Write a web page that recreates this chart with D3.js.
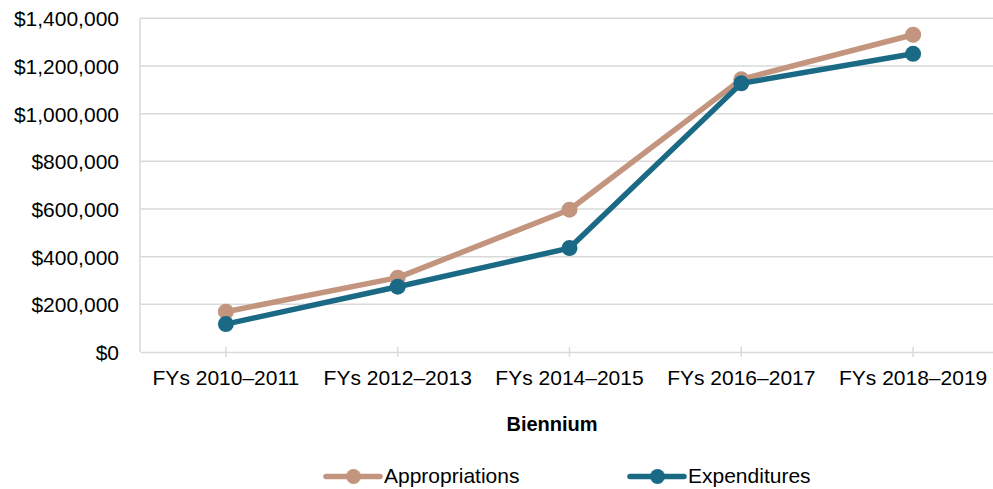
<!DOCTYPE html>
<html>
<head>
<meta charset="utf-8">
<script src="https://cdn.jsdelivr.net/npm/d3@7"></script>
<style>
  body { margin: 0; background: #fff; }
  svg { display: block; font-family: "Liberation Sans", Arial, sans-serif; }
</style>
</head>
<body>
<div id="chart"></div>
<script>
// Biennium categories and series (dollars)
const categories = ['FYs 2010–2011', 'FYs 2012–2013', 'FYs 2014–2015', 'FYs 2016–2017', 'FYs 2018–2019']
const appropriations = [169000, 312000, 597000, 1144000, 1331000]
const expenditures = [117000, 274000, 436000, 1127000, 1251000]
const yTicks = [0, 200000, 400000, 600000, 800000, 1000000, 1200000, 1400000]

const series = [
  { name: 'Appropriations', values: appropriations, color: '#C3957E' },
  { name: 'Expenditures', values: expenditures, color: '#1B6A85' }
]

const W = 993, H = 489
const plotL = 140, plotR = 999, plotT = 18.3, plotB = 352

const svg = d3.select('#chart').append('svg')
  .attr('width', W).attr('height', H)

const x = d3.scaleBand().domain(categories).range([plotL, plotR])
const y = d3.scaleLinear().domain([0, 1400000]).range([plotB, plotT])
const fmt = v => '$' + d3.format(',')(v)

// gridlines
svg.append('g').selectAll('line')
  .data(yTicks.filter(d => d > 0))
  .join('line')
  .attr('x1', plotL).attr('x2', plotR)
  .attr('y1', d => y(d)).attr('y2', d => y(d))
  .attr('stroke', '#d9d9d9').attr('stroke-width', 1.5)

// left axis line
svg.append('line')
  .attr('x1', plotL).attr('x2', plotL).attr('y1', plotT).attr('y2', plotB)
  .attr('stroke', '#d9d9d9').attr('stroke-width', 1.5)

// y axis
const yAxis = svg.append('g')
  .attr('transform', `translate(${plotL - 21},0)`)
  .call(d3.axisLeft(y).tickValues(yTicks).tickFormat(fmt).tickSize(0).tickPadding(0))
yAxis.select('.domain').remove()
yAxis.selectAll('text')
  .style('font-size', '21px').attr('fill', '#000')
  .attr('dy', '0.35em')

// x axis
const xAxis = svg.append('g')
  .attr('transform', `translate(0,${plotB})`)
  .call(d3.axisBottom(x).tickSizeInner(5).tickSizeOuter(0).tickPadding(13))
xAxis.select('.domain').attr('stroke', '#d9d9d9').attr('stroke-width', 1.5)
xAxis.selectAll('.tick line')
  .attr('y1', -5).attr('y2', 5)
  .attr('stroke', '#d9d9d9').attr('stroke-width', 1.5)
xAxis.selectAll('text')
  .style('font-size', '21px').attr('fill', '#000')

// axis title
svg.append('text')
  .attr('x', 552).attr('y', 431)
  .attr('text-anchor', 'middle')
  .style('font-size', '20px').style('font-weight', 'bold')
  .text('Biennium')

const cx = (d, i) => x(categories[i]) + x.bandwidth() / 2
const line = d3.line().x(cx).y(d => y(d))

series.forEach(s => {
  svg.append('path')
    .datum(s.values)
    .attr('d', line)
    .attr('fill', 'none')
    .attr('stroke', s.color)
    .attr('stroke-width', 5.5)
    .attr('stroke-linejoin', 'round')

  svg.append('g').selectAll('circle')
    .data(s.values)
    .join('circle')
    .attr('cx', cx).attr('cy', d => y(d))
    .attr('r', 8)
    .attr('fill', s.color)
})

// legend
const legendPos = [326, 630]
const legend = svg.append('g').selectAll('g')
  .data(series)
  .join('g')
  .attr('transform', (d, i) => `translate(${legendPos[i]},476.5)`)

legend.append('line')
  .attr('x1', 0).attr('x2', 54)
  .attr('stroke', d => d.color).attr('stroke-width', 5.5)
  .attr('stroke-linecap', 'round')
legend.append('circle')
  .attr('cx', 27.5).attr('r', 7.5)
  .attr('fill', d => d.color)
legend.append('text')
  .attr('x', 58).attr('y', 6.5)
  .style('font-size', '21px')
  .text(d => d.name)
</script>
</body>
</html>
